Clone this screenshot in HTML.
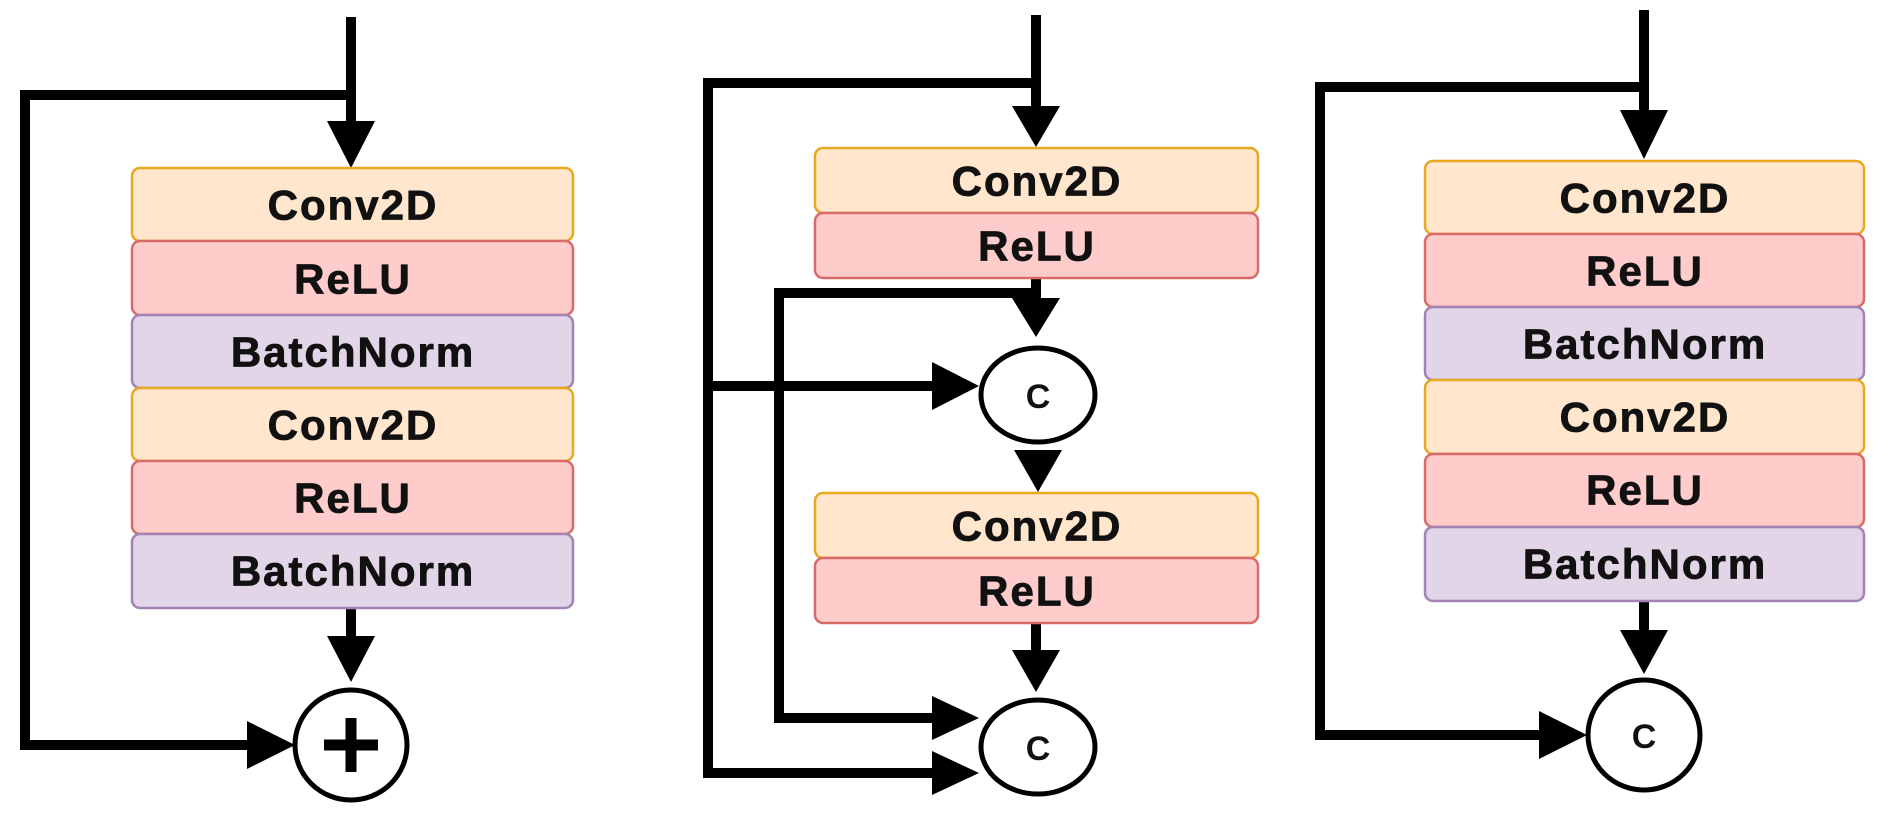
<!DOCTYPE html>
<html><head><meta charset="utf-8"><style>
html,body{margin:0;padding:0;background:#fff;}
svg{display:block;}
text{font-family:"Liberation Sans",Arial,sans-serif;font-weight:bold;fill:#111;text-anchor:middle;dominant-baseline:central;}
</style></head><body>
<svg width="1890" height="816" viewBox="0 0 1890 816" xmlns="http://www.w3.org/2000/svg">
<g stroke="#000" stroke-width="10" fill="none" stroke-linecap="square">
  <polyline points="351,22 351,125"/>
  <polyline points="351,95 25,95 25,745 250,745"/>
  <line x1="351" y1="610" x2="351" y2="640"/>
  <polyline points="1036,20 1036,110"/>
  <polyline points="1036,83 708,83 708,773 935,773"/>
  <line x1="708" y1="386" x2="935" y2="386"/>
  <polyline points="1036,280 1036,300"/>
  <polyline points="1030,293 779,293 779,718 935,718"/>
  <line x1="1036" y1="625" x2="1036" y2="654"/>
  <polyline points="1644,15 1644,114"/>
  <polyline points="1644,87 1320,87 1320,735 1542,735"/>
  <line x1="1644" y1="603" x2="1644" y2="634"/>
</g>
<g fill="#000">
  <polygon points="327,121 375,121 351,168"/>
  <polygon points="327,636 375,636 351,682"/>
  <polygon points="247,721 247,769 295,745"/>
  <polygon points="1012,106 1060,106 1036,147"/>
  <polygon points="1012,298 1060,298 1036,337"/>
  <polygon points="1014,450 1062,450 1038,492"/>
  <polygon points="1012,650 1060,650 1036,692"/>
  <polygon points="932,362 932,410 979,386"/>
  <polygon points="932,696 932,740 979,718"/>
  <polygon points="932,751 932,795 979,773"/>
  <polygon points="1620,110 1668,110 1644,159"/>
  <polygon points="1620,630 1668,630 1644,674"/>
  <polygon points="1539,711 1539,759 1587,735"/>
</g>
<g stroke-width="2.5">
  <rect x="132" y="168" width="441" height="73" rx="8" fill="#ffe6cc" stroke="#e8a820"/>
  <rect x="132" y="241" width="441" height="74" rx="8" fill="#ffcccc" stroke="#d86a6a"/>
  <rect x="132" y="315" width="441" height="73" rx="8" fill="#e1d5e7" stroke="#a283b3"/>
  <rect x="132" y="388" width="441" height="73" rx="8" fill="#ffe6cc" stroke="#e8a820"/>
  <rect x="132" y="461" width="441" height="73" rx="8" fill="#ffcccc" stroke="#d86a6a"/>
  <rect x="132" y="534" width="441" height="74" rx="8" fill="#e1d5e7" stroke="#a283b3"/>
  <rect x="815" y="148" width="443" height="65" rx="8" fill="#ffe6cc" stroke="#e8a820"/>
  <rect x="815" y="213" width="443" height="65" rx="8" fill="#ffcccc" stroke="#d86a6a"/>
  <rect x="815" y="493" width="443" height="65" rx="8" fill="#ffe6cc" stroke="#e8a820"/>
  <rect x="815" y="558" width="443" height="65" rx="8" fill="#ffcccc" stroke="#d86a6a"/>
  <rect x="1425" y="161" width="439" height="73" rx="8" fill="#ffe6cc" stroke="#e8a820"/>
  <rect x="1425" y="234" width="439" height="73" rx="8" fill="#ffcccc" stroke="#d86a6a"/>
  <rect x="1425" y="307" width="439" height="73" rx="8" fill="#e1d5e7" stroke="#a283b3"/>
  <rect x="1425" y="380" width="439" height="74" rx="8" fill="#ffe6cc" stroke="#e8a820"/>
  <rect x="1425" y="454" width="439" height="73" rx="8" fill="#ffcccc" stroke="#d86a6a"/>
  <rect x="1425" y="527" width="439" height="74" rx="8" fill="#e1d5e7" stroke="#a283b3"/>
</g>
<g font-size="42" letter-spacing="2" stroke="#111" stroke-width="0.8">
  <text x="353" y="205">Conv2D</text>
  <text x="353" y="279">ReLU</text>
  <text x="353" y="352">BatchNorm</text>
  <text x="353" y="425">Conv2D</text>
  <text x="353" y="498">ReLU</text>
  <text x="353" y="571">BatchNorm</text>
  <text x="1037" y="181">Conv2D</text>
  <text x="1037" y="246">ReLU</text>
  <text x="1037" y="526">Conv2D</text>
  <text x="1037" y="591">ReLU</text>
  <text x="1645" y="198">Conv2D</text>
  <text x="1645" y="271">ReLU</text>
  <text x="1645" y="344">BatchNorm</text>
  <text x="1645" y="417">Conv2D</text>
  <text x="1645" y="490">ReLU</text>
  <text x="1645" y="564">BatchNorm</text>
</g>
<g fill="#fff" stroke="#000" stroke-width="5">
  <ellipse cx="351" cy="745" rx="56" ry="55"/>
  <ellipse cx="1038" cy="395" rx="57" ry="47"/>
  <ellipse cx="1038" cy="747" rx="57" ry="47"/>
  <ellipse cx="1644" cy="735" rx="56" ry="55"/>
</g>
<g stroke="#000" stroke-width="11">
  <line x1="351" y1="718" x2="351" y2="772"/>
  <line x1="324" y1="745" x2="378" y2="745"/>
</g>
<g font-size="34">
  <text x="1038" y="397">C</text>
  <text x="1038" y="749">C</text>
  <text x="1644" y="737">C</text>
</g>
</svg>
</body></html>
